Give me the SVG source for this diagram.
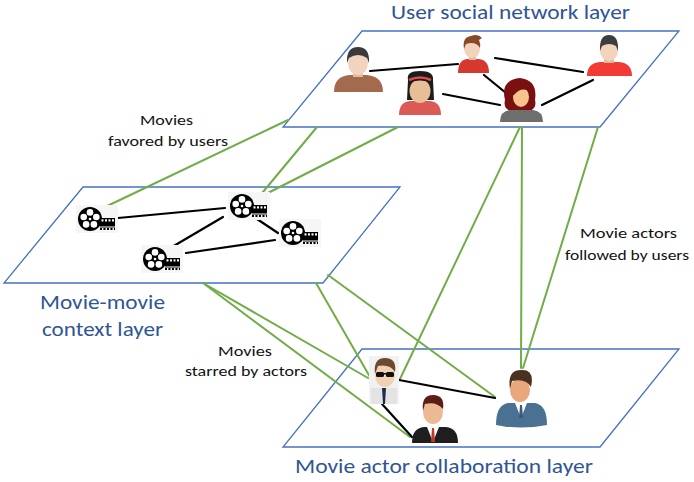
<svg xmlns="http://www.w3.org/2000/svg" width="694" height="482" viewBox="0 0 694 482">
  <style>
    .plane { fill: #FFFFFF; stroke: #4472C4; stroke-width: 1.3; }
    .link { stroke: #70AD47; stroke-width: 2; fill: none; stroke-linecap: round; }
    .edge { stroke: #000000; stroke-width: 2.2; fill: none; stroke-linecap: round; }
    .title { font-family: Carlito, "Liberation Sans", sans-serif; font-size: 20px; fill: #2F5597; }
    .label { font-family: Carlito, "Liberation Sans", sans-serif; font-size: 15px; fill: #111111; }
    .skin { fill: #F2D3BC; }
  </style>
  <defs>
    <!-- film reel with a short film strip, centred on the reel -->
    <symbol id="reel" overflow="visible">
      <rect x="-14" y="-14" width="42" height="28" fill="#F6F6F6"/>
      <circle cx="0" cy="0" r="12" fill="#000"/>
      <circle cx="0" cy="-6.6" r="3.3" fill="#fff"/>
      <circle cx="6.3" cy="-2" r="3.3" fill="#fff"/>
      <circle cx="3.9" cy="5.4" r="3.3" fill="#fff"/>
      <circle cx="-3.9" cy="5.4" r="3.3" fill="#fff"/>
      <circle cx="-6.3" cy="-2" r="3.3" fill="#fff"/>
      <circle cx="0" cy="0" r="1.3" fill="#fff"/>
      <rect x="10" y="-1" width="15" height="12" fill="#000"/>
      <rect x="11.5" y="0.3" width="2" height="2.2" fill="#fff"/>
      <rect x="15" y="0.3" width="2" height="2.2" fill="#fff"/>
      <rect x="18.5" y="0.3" width="2" height="2.2" fill="#fff"/>
      <rect x="22" y="0.3" width="2" height="2.2" fill="#fff"/>
      <rect x="10" y="7.5" width="15" height="1" fill="#fff"/>
      <rect x="12" y="9" width="1.4" height="2" fill="#fff"/>
      <rect x="15.5" y="9" width="1.4" height="2" fill="#fff"/>
      <rect x="19" y="9" width="1.4" height="2" fill="#fff"/>
      <rect x="22.5" y="9" width="1.4" height="2" fill="#fff"/>
    </symbol>
  </defs>

  <!-- layer planes -->
  <g id="plane-users">
    <polygon class="plane" points="362,31 679,31 600,127 283,127"/>
  </g>
  <g id="plane-movies">
    <polygon class="plane" points="83,187 400,187 323,283 4,283"/>
  </g>
  <g id="plane-actors">
    <polygon class="plane" points="362,349 679,349 600,447 283,447"/>
  </g>

  <!-- layer titles -->
  <text class="title" x="391" y="19" textLength="239" lengthAdjust="spacingAndGlyphs">User social network layer</text>
  <text class="title" x="40" y="309" textLength="125" lengthAdjust="spacingAndGlyphs">Movie-movie</text>
  <text class="title" x="42" y="336" textLength="121" lengthAdjust="spacingAndGlyphs">context layer</text>
  <text class="title" x="295" y="473" textLength="298" lengthAdjust="spacingAndGlyphs">Movie actor collaboration layer</text>

  <!-- cross-layer labels -->
  <text class="label" x="140" y="125" textLength="53" lengthAdjust="spacingAndGlyphs">Movies</text>
  <text class="label" x="108" y="146" textLength="120" lengthAdjust="spacingAndGlyphs">favored by users</text>
  <text class="label" x="580" y="238" textLength="97" lengthAdjust="spacingAndGlyphs">Movie actors</text>
  <text class="label" x="565" y="260" textLength="124" lengthAdjust="spacingAndGlyphs">followed by users</text>
  <text class="label" x="218" y="356" textLength="54" lengthAdjust="spacingAndGlyphs">Movies</text>
  <text class="label" x="185" y="376" textLength="122" lengthAdjust="spacingAndGlyphs">starred by actors</text>

  <!-- connectors -->
  <g id="connectors">
    <!-- users to movies -->
    <line class="link" x1="288" y1="120" x2="103" y2="208"/>
    <line class="link" x1="317" y1="127" x2="258" y2="198"/>
    <line class="link" x1="398" y1="127" x2="258" y2="198"/>
    <!-- users to actors -->
    <line class="link" x1="520" y1="127" x2="400" y2="379"/>
    <line class="link" x1="522" y1="127" x2="521" y2="368"/>
    <line class="link" x1="598" y1="127" x2="523" y2="368"/>
    <!-- movies to actors -->
    <line class="link" x1="203" y1="283" x2="368" y2="378"/>
    <line class="link" x1="203" y1="283" x2="410" y2="437"/>
    <line class="link" x1="316" y1="283" x2="370" y2="377"/>
    <line class="link" x1="328" y1="275" x2="495" y2="397"/>
    <!-- social ties -->
    <line class="edge" x1="370" y1="71" x2="458" y2="64"/>
    <line class="edge" x1="495" y1="58" x2="583" y2="72"/>
    <line class="edge" x1="484" y1="75" x2="506" y2="93"/>
    <line class="edge" x1="443" y1="94" x2="500" y2="105"/>
    <line class="edge" x1="542" y1="105" x2="593" y2="80"/>
    <!-- movie context ties -->
    <line class="edge" x1="118" y1="218" x2="225" y2="208"/>
    <line class="edge" x1="223" y1="217" x2="172" y2="247"/>
    <line class="edge" x1="257" y1="219" x2="278" y2="233"/>
    <line class="edge" x1="186" y1="253" x2="275" y2="240"/>
    <!-- actor collaborations -->
    <line class="edge" x1="399" y1="380" x2="495" y2="398"/>
    <line class="edge" x1="382" y1="404" x2="412" y2="437"/>
  </g>

  <!-- users -->
  <g id="user-1">
    <path d="M334,92 Q334,76 350,75 L366,75 Q383,76 383,92 Z" fill="#A36A4E"/>
    <rect x="353" y="70" width="10" height="7" fill="#E2B99E"/>
    <ellipse class="skin" cx="358" cy="63" rx="10" ry="12"/>
    <path d="M347,63 Q346,47 358,47 Q370,47 369,63 L367,58 Q358,52 349,58 Z" fill="#3B3B3B"/>
  </g>
  <g id="user-2">
    <path d="M458,73 Q458,60 467,59 L479,59 Q489,60 489,73 Z" fill="#D6382F"/>
    <rect x="469" y="54" width="7" height="6" fill="#E2B99E"/>
    <ellipse class="skin" cx="472" cy="49" rx="8" ry="9"/>
    <path d="M464,49 Q462,37 471,36 Q478,33 482,38 L479,40 Q481,44 480,48 Q476,41 466,44 Z" fill="#8A4A2A"/>
  </g>
  <g id="user-3">
    <path d="M587,76 Q587,63 600,62 L619,62 Q632,63 632,76 Z" fill="#F23B35"/>
    <rect x="604" y="57" width="10" height="6" fill="#E2B99E"/>
    <ellipse class="skin" cx="609" cy="51" rx="9" ry="10"/>
    <path d="M600,51 Q599,35 609,35 Q619,35 618,51 L616,46 Q609,42 602,46 Z" fill="#3E3E3E"/>
  </g>
  <g id="user-4">
    <path d="M408,80 Q406,71 420,71 Q434,71 433,80 L434,100 L407,100 Z" fill="#1C1C1C"/>
    <path d="M399,115 Q399,102 410,101 L430,101 Q441,102 441,115 Z" fill="#DC5A56"/>
    <ellipse cx="420" cy="91" rx="10.5" ry="12" fill="#E8BE96"/>
    <path d="M409,88 Q408,76 420,76 Q432,76 431,88 L429,82 Q420,79 411,82 Z" fill="#1C1C1C"/>
    <path d="M409,80 Q420,75 431,80" stroke="#E04A4A" stroke-width="2.5" fill="none"/>
  </g>
  <g id="user-5">
    <path d="M505,100 Q500,80 520,78 Q538,80 535,100 Q537,108 530,111 L510,111 Q503,108 505,100 Z" fill="#7A1010"/>
    <path d="M500,122 Q500,111 510,110 L533,110 Q543,111 543,122 Z" fill="#6E6E6E"/>
    <ellipse cx="521" cy="97" rx="8" ry="10" fill="#F8C48C"/>
    <path d="M512,95 Q512,82 522,83 Q530,84 530,92 Q522,86 514,95 Z" fill="#7A1010"/>
  </g>

  <!-- movies -->
  <g id="movie-1"><use href="#reel" x="90" y="219"/></g>
  <g id="movie-2"><use href="#reel" x="242" y="206"/></g>
  <g id="movie-3"><use href="#reel" x="293" y="233"/></g>
  <g id="movie-4"><use href="#reel" x="155" y="259"/></g>

  <!-- actors -->
  <g id="actor-1">
    <rect x="369" y="356" width="30" height="48" fill="#F1F1F1"/>
    <rect x="371" y="388" width="26" height="16" fill="#E3E3E3"/>
    <path d="M382,388 L386,388 L385,404 L383,404 Z" fill="#1F2A4D"/>
    <ellipse cx="385" cy="375" rx="10" ry="12" fill="#F2D0B4"/>
    <path d="M375,374 Q373,358 385,358 Q397,358 395,372 Q390,364 378,366 Z" fill="#6B4A2E"/>
    <rect x="376" y="372" width="8" height="5" rx="1.5" fill="#111"/>
    <rect x="386" y="372" width="8" height="5" rx="1.5" fill="#111"/>
    <rect x="383" y="373" width="4" height="1.5" fill="#111"/>
  </g>
  <g id="actor-2">
    <path d="M412,443 Q412,428 424,427 L446,427 Q458,428 458,443 Z" fill="#1E1E1E"/>
    <path d="M427,427 L439,427 L433,442 Z" fill="#FFFFFF"/>
    <path d="M432,428 L434,428 L435,442 L431,442 Z" fill="#C0392B"/>
    <ellipse cx="433" cy="412" rx="10" ry="12" fill="#EDB894"/>
    <path d="M423,411 Q421,395 433,395 Q445,395 443,409 Q436,401 425,404 Z" fill="#5B1E15"/>
  </g>
  <g id="actor-3">
    <path d="M496,425 Q496,405 508,403 L535,403 Q547,405 547,425 Q521,430 496,425 Z" fill="#4A7192"/>
    <path d="M515,403 L527,403 L521,418 Z" fill="#FFFFFF"/>
    <path d="M520,405 L522,405 L523,418 L519,418 Z" fill="#3A5B78"/>
    <ellipse cx="520" cy="390" rx="10" ry="12" fill="#E8A87C"/>
    <path d="M510,389 Q507,370 521,370 Q535,369 531,387 Q526,378 512,381 Z" fill="#4A3020"/>
  </g>
</svg>
